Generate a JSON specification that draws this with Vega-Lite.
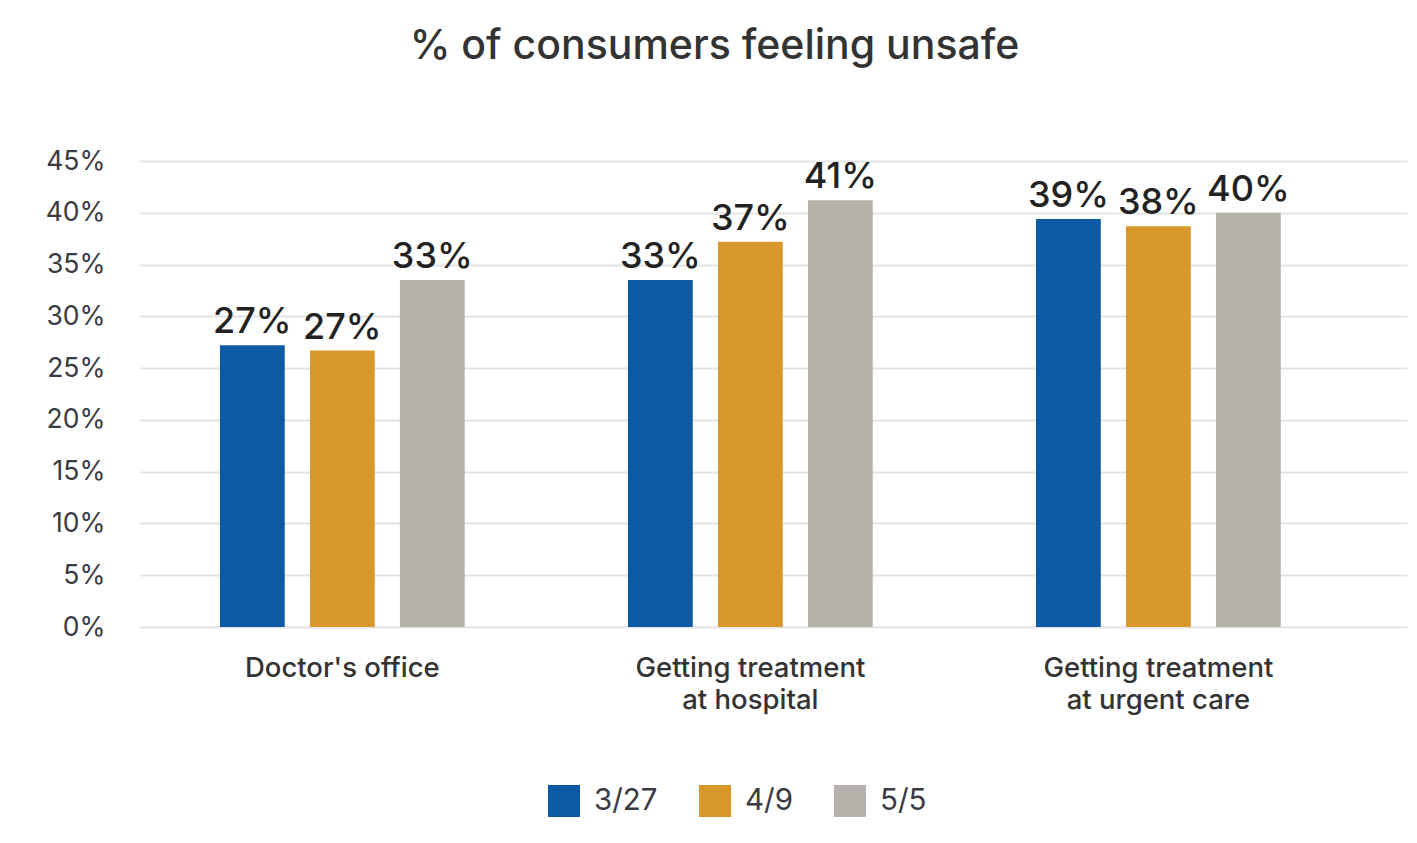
{
  "$schema": "https://vega.github.io/schema/vega-lite/v6.json",
  "autosize": {"type": "none"},
  "width": 1267,
  "height": 466,
  "padding": {"left": 140, "top": 161, "right": 10, "bottom": 216},
  "background": "white",
  "config": {
    "font": "Inter",
    "view": {"stroke": null},
    "axis": {"labelFont": "Inter", "labelColor": "#3a3a42"},
    "legend": {"labelFont": "Inter"}
  },
  "title": {
    "text": "% of consumers feeling unsafe",
    "font": "Inter",
    "fontSize": 41,
    "fontWeight": 500,
    "color": "#333333",
    "anchor": "middle",
    "frame": "group",
    "dx": -59,
    "offset": 80
  },
  "data": {
    "values": [
      {"place": "Doctor's office", "date": "3/27", "value": 27.2, "label": "27%"},
      {"place": "Doctor's office", "date": "4/9", "value": 26.7, "label": "27%"},
      {"place": "Doctor's office", "date": "5/5", "value": 33.5, "label": "33%"},
      {"place": "Getting treatment at hospital", "date": "3/27", "value": 33.5, "label": "33%"},
      {"place": "Getting treatment at hospital", "date": "4/9", "value": 37.2, "label": "37%"},
      {"place": "Getting treatment at hospital", "date": "5/5", "value": 41.2, "label": "41%"},
      {"place": "Getting treatment at urgent care", "date": "3/27", "value": 39.4, "label": "39%"},
      {"place": "Getting treatment at urgent care", "date": "4/9", "value": 38.7, "label": "38%"},
      {"place": "Getting treatment at urgent care", "date": "5/5", "value": 40.0, "label": "40%"}
    ]
  },
  "encoding": {
    "x": {
      "field": "place",
      "type": "nominal",
      "sort": null,
      "scale": {"paddingInner": 0.3, "paddingOuter": 0.2026, "align": 0.36},
      "axis": {
        "title": null,
        "domain": false,
        "ticks": false,
        "labelAngle": 0,
        "labelFontSize": 27.5,
        "labelFontWeight": 500,
        "labelColor": "#333333",
        "labelPadding": 27,
        "labelLineHeight": 32,
        "labelLimit": 500,
        "labelExpr": "indexof(datum.label,' at ')>0 ? [slice(datum.label,0,indexof(datum.label,' at ')), slice(datum.label,indexof(datum.label,' at ')+1)] : datum.label"
      }
    },
    "xOffset": {
      "field": "date",
      "type": "nominal",
      "sort": ["3/27", "4/9", "5/5"],
      "scale": {"paddingInner": 0.28, "paddingOuter": 0.227}
    },
    "y": {
      "field": "value",
      "type": "quantitative",
      "scale": {"domain": [0, 45], "nice": false},
      "axis": {
        "title": null,
        "domain": false,
        "ticks": false,
        "values": [0, 5, 10, 15, 20, 25, 30, 35, 40, 45],
        "labelExpr": "datum.value + '%'",
        "labelFontSize": 26.5,
        "labelPadding": 35,
        "gridColor": "#e3e3e3",
        "gridWidth": 2
      }
    }
  },
  "layer": [
    {
      "mark": {"type": "bar"},
      "encoding": {
        "color": {
          "field": "date",
          "type": "nominal",
          "scale": {"domain": ["3/27", "4/9", "5/5"], "range": ["#0b5aa3", "#d9982c", "#b5b2ac"]},
          "legend": {
            "title": null,
            "orient": "none",
            "legendX": 408,
            "legendY": 624,
            "direction": "horizontal",
            "symbolType": "square",
            "symbolSize": 1024,
            "symbolStrokeWidth": 0,
            "symbolOpacity": 1,
            "labelFontSize": 29.5,
            "labelColor": "#3a3a42",
            "labelOffset": 14,
            "columnPadding": 41
          }
        }
      }
    },
    {
      "mark": {"type": "text", "baseline": "bottom", "dy": -4, "fontSize": 36, "fontWeight": 500, "color": "#222222"},
      "encoding": {"text": {"field": "label"}}
    }
  ]
}
